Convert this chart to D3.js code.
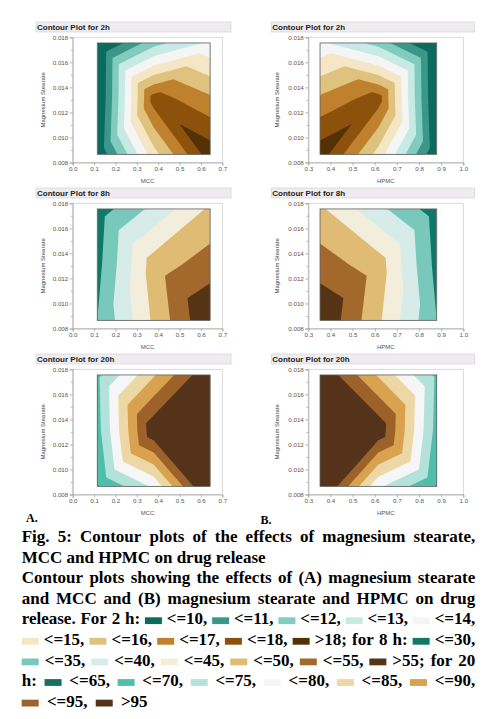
<!DOCTYPE html>
<html><head><meta charset="utf-8">
<script src="https://cdn.jsdelivr.net/npm/d3@7"></script>
<style>body{margin:0;background:#fff;} svg{display:block;}</style>
</head><body>
<svg id="fig" width="488" height="719"></svg>
<script>
// ---------------- DATA ----------------
// design levels (fill region of each contour plot)
const mgStearate = [0.00865, 0.0131, 0.01755];   // bottom, middle, top
const mccLevels  = [0.115, 0.379, 0.643];
const hpmcLevels = [0.353, 0.617, 0.880];

// drug release (%) at design points; rows: top, middle, bottom Mg stearate; columns: low -> high x
const release2hMCC   = [[8.6, 11.6, 13.2], [8.7, 17.5, 16.2], [9.0, 14.6, 18.6]];
const release8hMCC   = [[27.3, 36.4, 45.9], [28.4, 47.5, 52.5], [30.0, 45.9, 60.0]];
const release20hMCC  = [[68.8, 84.4, 99.8], [68.0, 99.0, 101.0], [64.5, 76.0, 103.0]];
const release2hHPMC  = [[13.2, 11.6, 8.6], [16.2, 17.5, 8.7], [18.6, 14.6, 9.0]];
const release8hHPMC  = [[45.9, 36.4, 27.3], [52.5, 47.5, 28.4], [60.0, 45.9, 30.0]];
const release20hHPMC = [[99.8, 84.4, 68.8], [101.0, 99.0, 68.0], [103.0, 76.0, 64.5]];

const thresholds2h  = [10, 11, 12, 13, 14, 15, 16, 17, 18];
const thresholds8h  = [30, 35, 40, 45, 50, 55];
const thresholds20h = [65, 70, 75, 80, 85, 90, 95];

const colors2h  = ["#0b6b5d","#3b978a","#80cdc0","#c7eae5","#f5f5f5","#f5e6c5","#dfc27d","#bf812d","#8c510a","#543005"];
const colors8h  = ["#0f7868","#78c9bb","#d7ece8","#f3eedb","#dfbb74","#a3682b","#553315"];
const colors20h = ["#17705f","#4fbfac","#b3e2da","#f6f6f6","#edd8a5","#d9a24f","#9d6229","#54331a"];

const xTicksMCC  = [0.0, 0.1, 0.2, 0.3, 0.4, 0.5, 0.6, 0.7];
const xTicksHPMC = [0.3, 0.4, 0.5, 0.6, 0.7, 0.8, 0.9, 1.0];
const yTicks     = [0.008, 0.010, 0.012, 0.014, 0.016, 0.018];
const yMinorTicks = [0.009, 0.011, 0.013, 0.015, 0.017];
const plotTitles = ["Contour Plot for 2h", "Contour Plot for 8h", "Contour Plot for 20h"];

// ---------------- LAYOUT ----------------
const svg = d3.select("#fig");
const SANS = "'Liberation Sans', Arial, sans-serif";
const SERIF = "'Liberation Serif', 'Times New Roman', serif";

const cols = [
  {titleX0: 36, titleX1: 231, ax0: 72.7, ax1: 222.3, ylabX: 43.3, domain: [0, 0.7], levels: mccLevels, ticks: xTicksMCC, xlabel: "MCC",
   data: [release2hMCC, release8hMCC, release20hMCC]},
  {titleX0: 271.3, titleX1: 474.7, ax0: 308.3, ax1: 463.3, ylabX: 277.3, domain: [0.3, 1.0], levels: hpmcLevels, ticks: xTicksHPMC, xlabel: "HPMC",
   data: [release2hHPMC, release8hHPMC, release20hHPMC]}
];
const rowThresholds = [thresholds2h, thresholds8h, thresholds20h];
const rowColors = [colors2h, colors8h, colors20h];

// piecewise linear field on union-jack triangulation of the 3x3 design
function fieldAt(g, u, v) {
  const node = (i, j) => g[2 - j][i];
  const ci = u < 0.5 ? 0 : 1, cj = v < 0.5 ? 0 : 1;
  const s = (u - ci * 0.5) / 0.5, t = (v - cj * 0.5) / 0.5;
  const f00 = node(ci, cj), f10 = node(ci + 1, cj), f01 = node(ci, cj + 1), f11 = node(ci + 1, cj + 1);
  if (ci === cj) {
    if (s >= t) return f00 + s * (f10 - f00) + t * (f11 - f10);
    return f00 + t * (f01 - f00) + s * (f11 - f01);
  } else {
    if (s + t <= 1) return f00 + s * (f10 - f00) + t * (f01 - f00);
    return f11 + (1 - s) * (f01 - f11) + (1 - t) * (f10 - f11);
  }
}

// title font sized to the reference width
const tmp = svg.append("text").attr("font-family", SANS).attr("font-weight", "bold").attr("font-size", 8).text(plotTitles[0]);
const titleFont = Math.min(10, 8 * 73 / Math.max(1, tmp.node().getComputedTextLength()));
tmp.remove();

const N = 181;
let clipId = 0;

cols.forEach((c, ci) => {
  for (let r = 0; r < 3; r++) {
    const y018 = 37.3 + 166 * r;
    const titleTop = 22 + 166 * r;
    const x = d3.scaleLinear().domain(c.domain).range([c.ax0, c.ax1]);
    const y = d3.scaleLinear().domain([0.008, 0.018]).range([y018 + 125.2, y018]);
    const g = svg.append("g");

    // title bar
    g.append("rect").attr("x", c.titleX0).attr("y", titleTop).attr("width", c.titleX1 - c.titleX0).attr("height", 10)
      .attr("fill", "#efecef").attr("stroke", "#d6d2d6").attr("stroke-width", 0.7);
    g.append("text").attr("x", c.titleX0 + 1).attr("y", titleTop + 8.3).text(plotTitles[r])
      .attr("font-family", SANS).attr("font-weight", "bold").attr("font-size", titleFont).attr("fill", "#222");

    // frame
    g.append("rect").attr("x", x(c.domain[0])).attr("y", y(0.018)).attr("width", x(c.domain[1]) - x(c.domain[0]))
      .attr("height", y(0.008) - y(0.018)).attr("fill", "none").attr("stroke", "#cfcfcf").attr("stroke-width", 0.8);

    // contour field
    const lv = c.levels, grid = c.data[r];
    const values = new Float64Array(N * N);
    for (let k = 0; k < N; k++) for (let i = 0; i < N; i++)
      values[k * N + i] = fieldAt(grid, i / (N - 1), 1 - k / (N - 1));
    const thr = rowThresholds[r], colors = rowColors[r];
    const contours = d3.contours().size([N, N]).thresholds(thr)(values);
    const proj = d3.geoTransform({point: function(px, py) {
      const u = (px - 0.5) / (N - 1), v = 1 - (py - 0.5) / (N - 1);
      this.stream.point(x(lv[0] + u * (lv[2] - lv[0])), y(mgStearate[0] + v * (mgStearate[2] - mgStearate[0])));
    }});
    const path = d3.geoPath(proj);
    const id = "clip" + (clipId++);
    const fx0 = x(lv[0]), fx1 = x(lv[2]), fy0 = y(mgStearate[2]), fy1 = y(mgStearate[0]);
    g.append("clipPath").attr("id", id).append("rect").attr("x", fx0).attr("y", fy0).attr("width", fx1 - fx0).attr("height", fy1 - fy0);
    const cg = g.append("g").attr("clip-path", `url(#${id})`);
    cg.append("rect").attr("x", fx0).attr("y", fy0).attr("width", fx1 - fx0).attr("height", fy1 - fy0).attr("fill", colors[0]);
    cg.selectAll("path.band").data(contours).join("path").attr("class", "band")
      .attr("d", path).attr("fill", (d, i) => colors[i + 1]);
    g.append("rect").attr("x", fx0).attr("y", fy0).attr("width", fx1 - fx0).attr("height", fy1 - fy0)
      .attr("fill", "none").attr("stroke", "#5e5e5e").attr("stroke-width", 0.8);

    // axes
    g.append("g").attr("transform", `translate(${x(c.domain[0])},0)`)
      .call(d3.axisLeft(y).tickValues(yTicks).tickFormat(d3.format(".3f")).tickSize(3).tickPadding(1.5));
    g.append("g").attr("transform", `translate(${x(c.domain[0])},0)`)
      .call(d3.axisLeft(y).tickValues(yMinorTicks).tickFormat("").tickSize(1.8))
      .call(a => a.select(".domain").remove());
    g.append("g").attr("transform", `translate(0,${y(0.008)})`)
      .call(d3.axisBottom(x).tickValues(c.ticks).tickFormat(d3.format(".1f")).tickSize(3).tickPadding(1.5));
    g.selectAll(".domain").attr("stroke", "#a8a8a8").attr("stroke-width", 0.8);
    g.selectAll(".tick line").attr("stroke", "#999").attr("stroke-width", 0.7);
    g.selectAll(".tick text").attr("font-family", SANS).attr("font-size", 6.2).attr("fill", "#555");

    // axis labels
    g.append("text").attr("transform", `translate(${c.ylabX + 2},${(y(0.008) + y(0.018)) / 2}) rotate(-90)`)
      .attr("text-anchor", "middle").attr("font-family", SANS).attr("font-size", 6).attr("fill", "#444").text("Magnesium Stearate");
    g.append("text").attr("x", (x(c.domain[0]) + x(c.domain[1])) / 2).attr("y", y(0.008) + 20.5)
      .attr("text-anchor", "middle").attr("font-family", SANS).attr("font-size", 6).attr("fill", "#555").text(c.xlabel);
  }
});

// panel letters
svg.append("text").attr("x", 26).attr("y", 522).text("A.").attr("font-family", SERIF).attr("font-weight", "bold").attr("font-size", 12);
svg.append("text").attr("x", 260.5).attr("y", 524).text("B.").attr("font-family", SERIF).attr("font-weight", "bold").attr("font-size", 12);

// ---------------- CAPTION ----------------
const sw = col => ({swatch: col});
const le = (t, i, p) => "<=" + t[i] + p;
const capLines = [
  {w: "Fig. 5: Contour plots of the effects of magnesium stearate,".split(" "), j: true},
  {w: "MCC and HPMC on drug release".split(" "), j: false},
  {w: "Contour plots showing the effects of (A) magnesium stearate".split(" "), j: true},
  {w: "and MCC and (B) magnesium stearate and HPMC on drug".split(" "), j: true},
  {w: ["release.", "For", "2", "h:", sw(colors2h[0]), le(thresholds2h,0,","), sw(colors2h[1]), le(thresholds2h,1,","),
       sw(colors2h[2]), le(thresholds2h,2,","), sw(colors2h[3]), le(thresholds2h,3,","), sw(colors2h[4]), le(thresholds2h,4,",")], j: true},
  {w: [sw(colors2h[5]), le(thresholds2h,5,","), sw(colors2h[6]), le(thresholds2h,6,","), sw(colors2h[7]), le(thresholds2h,7,","),
       sw(colors2h[8]), le(thresholds2h,8,","), sw(colors2h[9]), ">" + thresholds2h[8] + ";", "for", "8", "h:", sw(colors8h[0]), le(thresholds8h,0,",")], j: true},
  {w: [sw(colors8h[1]), le(thresholds8h,1,","), sw(colors8h[2]), le(thresholds8h,2,","), sw(colors8h[3]), le(thresholds8h,3,","),
       sw(colors8h[4]), le(thresholds8h,4,","), sw(colors8h[5]), le(thresholds8h,5,","), sw(colors8h[6]), ">" + thresholds8h[5] + ";", "for", "20"], j: true},
  {w: ["h:", sw(colors20h[0]), le(thresholds20h,0,","), sw(colors20h[1]), le(thresholds20h,1,","), sw(colors20h[2]), le(thresholds20h,2,","),
       sw(colors20h[3]), le(thresholds20h,3,","), sw(colors20h[4]), le(thresholds20h,4,","), sw(colors20h[5]), le(thresholds20h,5,",")], j: true},
  {w: [sw(colors20h[6]), le(thresholds20h,6,","), sw(colors20h[7]), ">" + thresholds20h[6]], j: false}
];
const capX0 = 21.7, capX1 = 475.3;
const baselines = [542, 562.6, 583.2, 603.8, 624.4, 645, 665.6, 686.2, 706.8];
const cap = svg.append("g").attr("font-family", SERIF).attr("font-weight", "bold").attr("font-size", 17).attr("fill", "#000");
const meas = cap.append("text").attr("x", -1000).attr("y", -1000);
function textW(s) { meas.text(s); return meas.node().getComputedTextLength(); }
const spaceW = textW("a a") - textW("aa");
const SWW = 17, SWH = 6.8;
capLines.forEach((ln, li) => {
  const widths = ln.w.map(t => typeof t === "string" ? textW(t) : SWW);
  const total = d3.sum(widths);
  const n = ln.w.length;
  let gaps;
  if (ln.j) {
    const gsz = (capX1 - capX0 - total) / (n - 1);
    gaps = d3.range(n - 1).map(() => gsz);
  } else {
    gaps = d3.range(n - 1).map(i => (typeof ln.w[i] !== "string" || typeof ln.w[i + 1] !== "string") ? 8.2 : spaceW);
  }
  let xp = capX0;
  const by = baselines[li];
  ln.w.forEach((t, i) => {
    if (typeof t === "string") {
      cap.append("text").attr("x", xp).attr("y", by).text(t);
    } else {
      cap.append("rect").attr("x", xp).attr("y", by - SWH - 0.3).attr("width", SWW).attr("height", SWH).attr("fill", t.swatch);
    }
    xp += widths[i] + (i < n - 1 ? gaps[i] : 0);
  });
});
meas.remove();
</script>
</body></html>
